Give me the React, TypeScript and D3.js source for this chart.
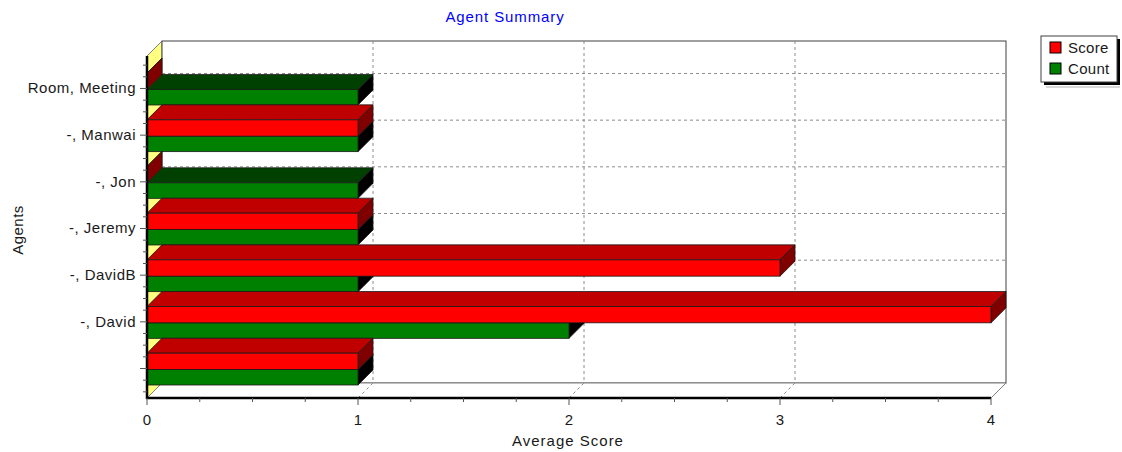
import React from 'react';
import * as d3 from 'd3';

// categories listed bottom to top, as the chart stacks them
const categories = ['', '-, David', '-, DavidB', '-, Jeremy', '-, Jon', '-, Manwai', 'Room, Meeting'];
const scoreValues = [1, 4, 3, 1, 0, 1, 0];
const countValues = [1, 2, 1, 1, 1, 1, 1];
const xTicks = [0, 1, 2, 3, 4];
const seriesNames = ['Score', 'Count'];

const W = 1122;
const H = 452;
const D = 15; // 3d depth offset
const FONT = '"Liberation Sans", Arial, sans-serif';

const plot = { left: 147, right: 991, top: 56, bottom: 398 };

const colors = {
  Score: { front: '#ff0000', top: '#c00000', side: '#800000' },
  Count: { front: '#008000', top: '#004000', side: '#000000' },
};

function Bar3D({ x0, x1, y0, y1, c }: { x0: number; x1: number; y0: number; y1: number; c: { front: string; top: string; side: string } }) {
  const topFace = [[x0, y0], [x1, y0], [x1 + D, y0 - D], [x0 + D, y0 - D]];
  const sideFace = [[x1, y0], [x1, y1], [x1 + D, y1 - D], [x1 + D, y0 - D]];
  const pts = (p: number[][]) => p.map(q => q.join(',')).join(' ');
  return (
    <g stroke="#1a1a1a" strokeWidth={0.8}>
      <polygon points={pts(topFace)} fill={c.top} />
      <polygon points={pts(sideFace)} fill={c.side} />
      {x1 > x0 && <rect x={x0} y={y0} width={x1 - x0} height={y1 - y0} fill={c.front} />}
    </g>
  );
}

export default function App() {
  const x = d3.scaleLinear().domain([0, 4]).range([plot.left, plot.right]);
  const y = d3.scaleBand<string>().domain(categories).range([385, 385 - 7 * 46.67]);
  const bw = y.bandwidth();

  const greenH = 15.5;
  const redH = 16.3;
  const tickY = (c: string) => (y(c) as number) + bw - greenH - 1;

  // minor ticks on the category axis
  const minorY: number[] = [];
  for (let k = -4; k < categories.length * 4 + 4; k++) {
    const v = tickY(categories[0]) - k * bw / 4;
    if (v >= plot.top && v <= plot.bottom && k % 4 !== 0) minorY.push(v);
  }
  const minorX = d3.range(0, 4.0001, 0.25).filter(v => Math.abs(v - Math.round(v)) > 0.01);

  const order = categories.map((c, i) => i).reverse();

  return (
    <svg width={W} height={H} style={{ position: 'absolute', left: 0, top: 0, background: '#fff' }} fontFamily={FONT}>
      <text x={505} y={22} textAnchor="middle" fontSize={15} letterSpacing={0.9} fill="#0000ff">Agent Summary</text>

      {/* walls */}
      <polygon
        points={`${plot.left},${plot.top} ${plot.left + D},${plot.top - D} ${plot.left + D},${plot.bottom - D} ${plot.left},${plot.bottom}`}
        fill="#ffff80" stroke="#808080" strokeWidth={1} />
      <rect x={plot.left + D} y={plot.top - D} width={plot.right - plot.left} height={plot.bottom - plot.top}
        fill="#fff" stroke="#404040" strokeWidth={1} />
      <polygon
        points={`${plot.left},${plot.bottom} ${plot.right},${plot.bottom} ${plot.right + D},${plot.bottom - D} ${plot.left + D},${plot.bottom - D}`}
        fill="#fff" stroke="#808080" strokeWidth={1} />

      {/* grid */}
      <g stroke="#8c8c8c" strokeDasharray="3,3" strokeWidth={1}>
        {xTicks.slice(1, -1).map(v => (
          <g key={v}>
            <line x1={x(v) + D} x2={x(v) + D} y1={plot.top - D} y2={plot.bottom - D} />
            <line x1={x(v)} x2={x(v) + D} y1={plot.bottom} y2={plot.bottom - D} />
          </g>
        ))}
        {categories.slice(1).map(c => (
          <line key={c} x1={plot.left + D} x2={plot.right + D} y1={tickY(c) - D} y2={tickY(c) - D} />
        ))}
      </g>

      {/* bars */}
      {order.map(i => {
        const c = categories[i];
        const bottom = (y(c) as number) + bw;
        return (
          <g key={c}>
            <Bar3D x0={x(0)} x1={x(countValues[i])} y0={bottom - greenH} y1={bottom} c={colors.Count} />
            <Bar3D x0={x(0)} x1={x(scoreValues[i])} y0={bottom - greenH - redH} y1={bottom - greenH} c={colors.Score} />
          </g>
        );
      })}

      {/* category axis */}
      <line x1={plot.left} x2={plot.left} y1={plot.top} y2={plot.bottom + 1} stroke="#000" strokeWidth={2.5} />
      <g stroke="#555" strokeWidth={1}>
        {minorY.map((v, k) => <line key={k} x1={plot.left - 4} x2={plot.left} y1={v} y2={v} />)}
        {categories.map(c => <line key={c} x1={plot.left - 7} x2={plot.left} y1={tickY(c)} y2={tickY(c)} />)}
      </g>
      <g fontSize={15} fill="#1a1a1a" textAnchor="end" letterSpacing={0.5}>
        {categories.map(c => (
          <text key={c} x={plot.left - 11} y={tickY(c) + 5}>{c}</text>
        ))}
      </g>
      <text transform="translate(23,230) rotate(-90)" textAnchor="middle" fontSize={15} letterSpacing={0.5} fill="#1a1a1a">Agents</text>

      {/* value axis */}
      <line x1={plot.left - 1} x2={plot.right} y1={plot.bottom} y2={plot.bottom} stroke="#000" strokeWidth={2.5} />
      <g stroke="#555" strokeWidth={1}>
        {minorX.map(v => <line key={v} x1={x(v)} x2={x(v)} y1={plot.bottom} y2={plot.bottom + 4} />)}
        {xTicks.map(v => <line key={v} x1={x(v)} x2={x(v)} y1={plot.bottom} y2={plot.bottom + 7} />)}
      </g>
      <g fontSize={15} fill="#1a1a1a" textAnchor="middle">
        {xTicks.map(v => <text key={v} x={x(v)} y={425}>{v}</text>)}
      </g>
      <text x={568} y={446} textAnchor="middle" fontSize={15} letterSpacing={1} fill="#1a1a1a">Average Score</text>

      {/* legend */}
      <rect x={1044} y={39} width={76} height={46} fill="#000" />
      <line x1={1046} x2={1120} y1={87} y2={87} stroke="#b0b0b0" />
      <rect x={1041} y={36} width={76} height={46} fill="#fff" stroke="#404040" />
      {seriesNames.map((s, k) => (
        <g key={s}>
          <rect x={1050} y={42 + k * 21} width={11} height={11} fill={colors[s as 'Score' | 'Count'].front} stroke="#000" />
          <text x={1068} y={53 + k * 21} fontSize={15} letterSpacing={0.3} fill="#1a1a1a">{s}</text>
        </g>
      ))}
    </svg>
  );
}
